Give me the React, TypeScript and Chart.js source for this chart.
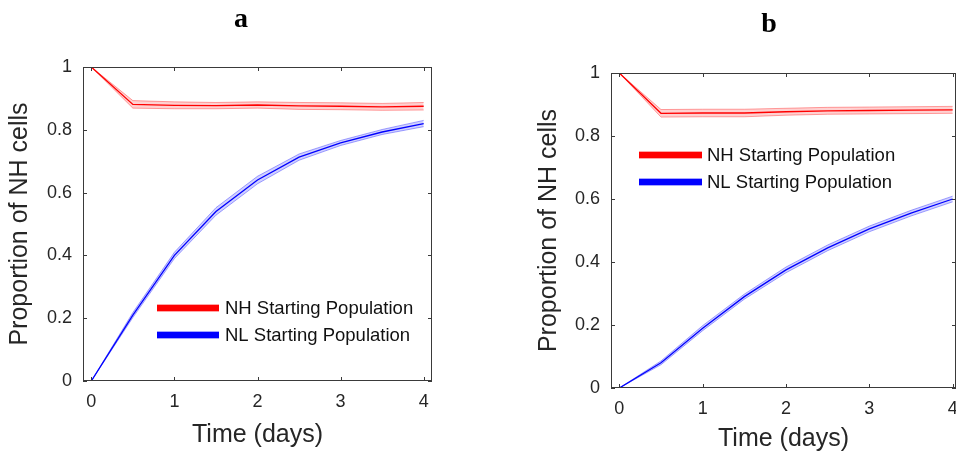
import React, { useEffect, useRef } from "react";
import { Chart, registerables } from "chart.js";
Chart.register(...registerables);

// ---- data ----
const timeDays = [0, 0.5, 1, 1.5, 2, 2.5, 3, 3.5, 4];

const aNHMean = [1, 0.881, 0.878, 0.877, 0.879, 0.876, 0.875, 0.873, 0.875];
const aNHErr = [0, 0.012, 0.011, 0.01, 0.01, 0.011, 0.011, 0.011, 0.012];
const aNLMean = [0, 0.21, 0.4, 0.54, 0.64, 0.713, 0.758, 0.793, 0.82];
const aNLErr = [0, 0.008, 0.01, 0.012, 0.012, 0.01, 0.008, 0.008, 0.01];

const bNHMean = [1, 0.872, 0.873, 0.873, 0.877, 0.88, 0.881, 0.882, 0.883];
const bNHErr = [0, 0.012, 0.012, 0.012, 0.011, 0.011, 0.011, 0.011, 0.011];
const bNLMean = [0, 0.08, 0.19, 0.29, 0.375, 0.445, 0.505, 0.555, 0.6];
const bNLErr = [0, 0.006, 0.008, 0.008, 0.009, 0.009, 0.009, 0.009, 0.009];

const yTicks = [0, 0.2, 0.4, 0.6, 0.8, 1];
const xTicks = [0, 1, 2, 3, 4];
const legendLabels = ["NH Starting Population", "NL Starting Population"];
const panelTitles = ["a", "b"];
const xTitle = "Time (days)";
const yTitle = "Proportion of NH cells";

const RED = "#ff0000";
const BLUE = "#0000ff";
const RED_BAND = "rgba(255,0,0,0.18)";
const BLUE_BAND = "rgba(0,0,255,0.18)";
const RED_EDGE = "rgba(255,0,0,0.35)";
const BLUE_EDGE = "rgba(0,0,255,0.35)";

const SANS = "'Liberation Sans', Arial, Helvetica, sans-serif";

type Panel = {
  title: string;
  nh: number[];
  nhErr: number[];
  nl: number[];
  nlErr: number[];
  canvasLeft: number;
  canvasWidth: number;
  padTop: number;
  padRight: number;
  yAxisWidth: number;
  xAxisHeight: number;
  xMax: number;
  xTitlePad: number;
  titleX: number;
  titleY: number;
  legendX0: number;
  legendX1: number;
  legendTextX: number;
  legendY: number[];
};

const panels: Panel[] = [
  {
    title: panelTitles[0],
    nh: aNHMean, nhErr: aNHErr, nl: aNLMean, nlErr: aNLErr,
    canvasLeft: 0, canvasWidth: 478, padTop: 67, padRight: 46,
    yAxisWidth: 83, xAxisHeight: 79, xMax: 4.1, xTitlePad: 10,
    titleX: 241, titleY: 27,
    legendX0: 157, legendX1: 219, legendTextX: 225, legendY: [308, 335],
  },
  {
    title: panelTitles[1],
    nh: bNHMean, nhErr: bNHErr, nl: bNLMean, nlErr: bNLErr,
    canvasLeft: 529, canvasWidth: 427, padTop: 73, padRight: 0,
    yAxisWidth: 82, xAxisHeight: 72, xMax: 4.04, xTitlePad: 6,
    titleX: 240, titleY: 32,
    legendX0: 110, legendX1: 173, legendTextX: 178, legendY: [155, 182],
  },
];

function band(mean: number[], err: number[], sign: number) {
  return timeDays.map((t, i) => ({ x: t, y: mean[i] + sign * err[i] }));
}
function line(mean: number[]) {
  return timeDays.map((t, i) => ({ x: t, y: mean[i] }));
}

function PanelChart({ p }: { p: Panel }) {
  const ref = useRef<HTMLCanvasElement>(null);
  useEffect(() => {
    const canvas = ref.current!;
    const framePlugin = {
      id: "frame",
      afterDraw(chart: any) {
        const { ctx, chartArea, scales } = chart;
        const { left, right, top, bottom } = chartArea;
        ctx.save();
        ctx.strokeStyle = "#3a3a3a";
        ctx.lineWidth = 1;
        ctx.strokeRect(left + 0.5, top + 0.5, right - left - 1, bottom - top - 1);
        ctx.beginPath();
        const tl = 4;
        xTicks.forEach((v) => {
          const px = Math.round(scales.x.getPixelForValue(v)) + 0.5;
          ctx.moveTo(px, bottom);
          ctx.lineTo(px, bottom - tl);
          ctx.moveTo(px, top);
          ctx.lineTo(px, top + tl);
        });
        yTicks.forEach((v) => {
          const py = Math.round(scales.y.getPixelForValue(v)) + 0.5;
          ctx.moveTo(left, py);
          ctx.lineTo(left + tl, py);
          ctx.moveTo(right, py);
          ctx.lineTo(right - tl, py);
        });
        ctx.stroke();

        // legend
        const cols = [RED, BLUE];
        const bands = [RED_EDGE, BLUE_EDGE];
        ctx.font = `18.5px ${SANS}`;
        ctx.textBaseline = "middle";
        ctx.textAlign = "left";
        legendLabels.forEach((lab, i) => {
          const y = p.legendY[i];
          ctx.fillStyle = bands[i];
          ctx.fillRect(p.legendX0, y - 4, p.legendX1 - p.legendX0, 8);
          ctx.fillStyle = cols[i];
          ctx.fillRect(p.legendX0, y - 3, p.legendX1 - p.legendX0, 6);
          ctx.fillStyle = "#111";
          ctx.fillText(lab, p.legendTextX, y + 1);
        });

        // panel title
        ctx.font = `bold 28px 'Liberation Serif', 'DejaVu Serif', serif`;
        ctx.textAlign = "center";
        ctx.textBaseline = "alphabetic";
        ctx.fillStyle = "#000";
        ctx.fillText(p.title, p.titleX, p.titleY);
        ctx.restore();
      },
    };

    const chart = new Chart(canvas, {
      type: "line",
      data: {
        datasets: [
          { data: band(p.nh, p.nhErr, 1), borderColor: RED_EDGE, backgroundColor: RED_BAND, borderWidth: 1, fill: "+1", pointRadius: 0, order: 2 },
          { data: band(p.nh, p.nhErr, -1), borderColor: RED_EDGE, borderWidth: 1, fill: false, pointRadius: 0, order: 2 },
          { data: band(p.nl, p.nlErr, 1), borderColor: BLUE_EDGE, backgroundColor: BLUE_BAND, borderWidth: 1, fill: "+1", pointRadius: 0, order: 2 },
          { data: band(p.nl, p.nlErr, -1), borderColor: BLUE_EDGE, borderWidth: 1, fill: false, pointRadius: 0, order: 2 },
          { data: line(p.nh), borderColor: RED, borderWidth: 1.3, fill: false, pointRadius: 0, order: 0 },
          { data: line(p.nl), borderColor: BLUE, borderWidth: 1.3, fill: false, pointRadius: 0, order: 0 },
        ] as any,
      },
      options: {
        animation: false,
        responsive: false,
        devicePixelRatio: 1,
        events: [],
        layout: { padding: { top: p.padTop, right: p.padRight, left: 0, bottom: 0 } },
        plugins: { legend: { display: false }, tooltip: { enabled: false }, title: { display: false } },
        scales: {
          x: {
            type: "linear",
            min: -0.1,
            max: p.xMax,
            grid: { display: false, drawTicks: false },
            border: { display: false },
            afterBuildTicks: (s: any) => { s.ticks = xTicks.map((v) => ({ value: v })); },
            afterFit: (s: any) => {
              s.height = p.xAxisHeight;
              s.paddingLeft = 0;
              s.paddingRight = 0;
            },
            ticks: {
              color: "#262626",
              font: { size: 18, family: SANS },
              padding: 10,
              maxRotation: 0,
              autoSkip: false,
              callback: (v: any) => String(v),
            },
            title: {
              display: true,
              text: xTitle,
              color: "#262626",
              font: { size: 25, family: SANS },
              padding: { top: 0, bottom: p.xTitlePad },
            },
          },
          y: {
            type: "linear",
            min: 0,
            max: 1,
            grid: { display: false, drawTicks: false },
            border: { display: false },
            afterBuildTicks: (s: any) => { s.ticks = yTicks.map((v) => ({ value: v })); },
            afterFit: (s: any) => {
              s.width = p.yAxisWidth;
              s.paddingTop = 0;
              s.paddingBottom = 0;
            },
            ticks: {
              color: "#262626",
              font: { size: 18, family: SANS },
              padding: 11,
              autoSkip: false,
              callback: (v: any) => String(Math.round(Number(v) * 10) / 10),
            },
            title: {
              display: true,
              text: yTitle,
              color: "#262626",
              font: { size: 25, family: SANS },
              padding: { top: 5, bottom: 0 },
            },
          },
        },
      } as any,
      plugins: [framePlugin],
    });
    return () => chart.destroy();
  }, [p]);
  return (
    <canvas
      ref={ref}
      width={p.canvasWidth}
      height={460}
      style={{ position: "absolute", left: p.canvasLeft, top: 0, width: p.canvasWidth, height: 460 }}
    />
  );
}

export default function App() {
  return (
    <div style={{ position: "absolute", left: 0, top: 0, width: 956, height: 460, background: "#fff", overflow: "hidden" }}>
      {panels.map((p, i) => (
        <PanelChart key={i} p={p} />
      ))}
    </div>
  );
}
